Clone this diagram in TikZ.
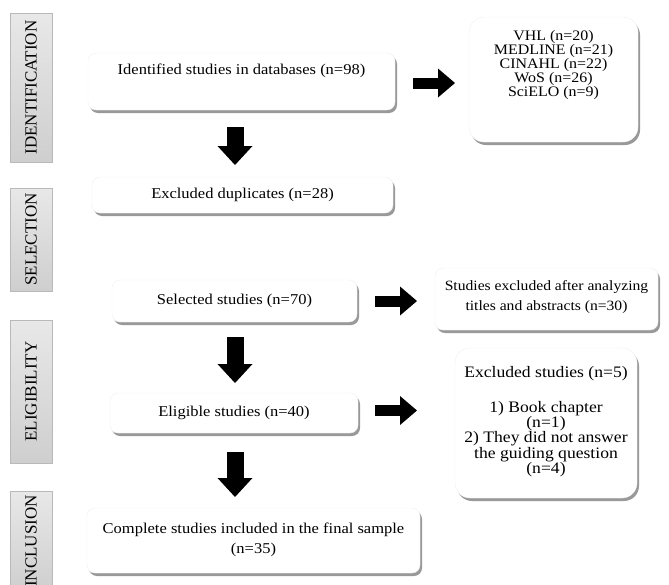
\documentclass[tikz,border=0pt]{standalone}
\usepackage{fontspec}
\setmainfont{Liberation Serif}
\newfontfamily\boxfont[FakeStretch=1.1]{Liberation Serif}
\usetikzlibrary{shadows,arrows.meta}

\tikzset{
	stagebox/.style={draw=gray!55, top color=gray!18, bottom color=gray!38, rotate=90, minimum height=42, inner sep=0pt, font=\fontsize{17}{17}\selectfont},
	flowbox/.style={draw=gray!12, fill=white, rounded corners=8pt, inner sep=2pt, align=center, font=\boxfont\fontsize{15}{20}\selectfont, drop shadow={shadow xshift=2pt, shadow yshift=-3pt, opacity=0.4, fill=black}},
	downblk/.style={line width=17pt, -{Triangle[length=19pt, width=35pt, line width=0pt]}},
	rightblk/.style={line width=11pt, -{Triangle[length=17pt, width=29pt, line width=0pt]}}
}

\begin{document}
\begin{tikzpicture}[x=1pt, y=-1pt]
				\useasboundingbox (0, 0) rectangle (669, 584);

				%%stages on the left
				\node[stagebox, minimum width=149] (stident) at (31, 87.5) {IDENTIFICATION};
				\node[stagebox, minimum width=103] (stsel) at (31, 239.5) {SELECTION};
				\node[stagebox, minimum width=143] (stelig) at (31, 391.5) {ELIGIBILITY};
				\node[stagebox, minimum width=100] (stincl) at (31, 541) {INCLUSION};

				%%main column
				\node[flowbox, minimum width=307, minimum height=57] (ident) at (241.5, 81.5) {Identified studies in databases (n=98)\\[5pt]\mbox{}};
				\node[flowbox, minimum width=301, minimum height=36] (dupl) at (242.5, 195) {Excluded duplicates (n=28)};
				\node[flowbox, minimum width=245, minimum height=42] (selec) at (234.5, 301) {Selected studies (n=70)};
				\node[flowbox, minimum width=248, minimum height=40] (elig) at (234, 413) {Eligible studies (n=40)};
				\node[flowbox, minimum width=333, minimum height=65] (final) at (253.5, 540.5) {Complete studies included in the final sample\\(n=35)\\[-16pt]\mbox{}};

				%%side boxes
				\node[flowbox, rounded corners=15pt, minimum width=169, minimum height=125, font=\boxfont\fontsize{14.5}{14}\selectfont] (dbs) at (553.5, 79.5) {VHL (n=20)\\MEDLINE (n=21)\\CINAHL (n=22)\\WoS (n=26)\\SciELO (n=9)\\[19pt]\mbox{}};
				\node[flowbox, minimum width=223, minimum height=62, font=\boxfont\fontsize{14.2}{20}\selectfont] (exclta) at (546.5, 299) {Studies excluded after analyzing\\titles and abstracts (n=30)\\[-12pt]\mbox{}};
				\node[flowbox, rounded corners=15pt, minimum width=182, minimum height=150, font=\boxfont\fontsize{16}{15.3}\selectfont] (exclst) at (546, 423) {Excluded studies (n=5)\\[19.7pt]1) Book chapter\\(n=1)\\2) They did not answer\\the guiding question\\(n=4)\\[-9pt]\mbox{}};

				%%arrows down
				\coordinate (d1s) at (235, 127);
				\coordinate (d1e) at (235, 165);
				\draw[downblk] (d1s) -- (d1e);
				\coordinate (d2s) at (235, 337);
				\coordinate (d2e) at (235, 383);
				\draw[downblk] (d2s) -- (d2e);
				\coordinate (d3s) at (235, 452);
				\coordinate (d3e) at (235, 497);
				\draw[downblk] (d3s) -- (d3e);

				%%arrows right
				\coordinate (r1s) at (413, 83);
				\coordinate (r1e) at (455, 83);
				\draw[rightblk] (r1s) -- (r1e);
				\coordinate (r2s) at (375, 301);
				\coordinate (r2e) at (417, 301);
				\draw[rightblk] (r2s) -- (r2e);
				\coordinate (r3s) at (375, 410.5);
				\coordinate (r3e) at (417, 410.5);
				\draw[rightblk] (r3s) -- (r3e);
\end{tikzpicture}
\end{document}
